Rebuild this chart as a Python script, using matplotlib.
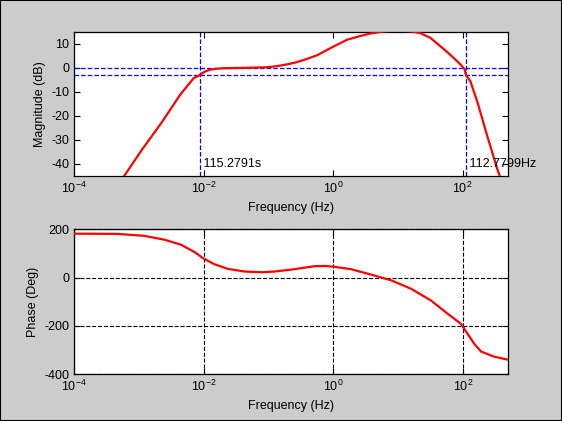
import numpy as np
import matplotlib
matplotlib.use('Agg')
import matplotlib.pyplot as plt
from matplotlib.patches import Rectangle

plt.rcParams['font.family'] = ['Liberation Sans', 'DejaVu Sans']
plt.rcParams['mathtext.fontset'] = 'custom'
plt.rcParams['mathtext.rm'] = 'Liberation Sans'
plt.rcParams['mathtext.it'] = 'Liberation Sans'
plt.rcParams['axes.unicode_minus'] = False
plt.rcParams['font.size'] = 9

# magnitude response (log10 of Hz, dB)
mag_logf = [-3.30, -3.21, -2.95, -2.67, -2.50, -2.36, -2.26, -2.206, -2.155, -2.062,
            -1.98, -1.897, -1.80, -1.69, -1.30, -1.02, -0.86, -0.71, -0.58, -0.455,
            -0.247, -0.04, 0.217, 0.43, 0.58, 0.80, 1.00, 1.20, 1.35, 1.50,
            1.66, 1.81, 1.97, 2.03, 2.052, 2.12, 2.23, 2.38, 2.54, 2.60]
mag_db = [-48.0, -44.4, -34.0, -23.6, -16.8, -11.1, -7.8, -6.0, -4.3, -3.0,
          -1.5, -0.7, -0.3, -0.1, 0.1, 0.3, 0.8, 1.5, 2.3, 3.3,
          5.3, 8.3, 11.8, 13.4, 14.4, 15.3, 15.6, 15.3, 14.5, 12.6,
          9.0, 5.5, 1.4, -0.5, -3.0, -5.5, -14.3, -28.3, -42.5, -47.0]

# phase response (log10 of Hz, degrees)
ph_logf = [-4.00, -3.33, -2.92, -2.61, -2.35, -2.14, -2.00, -1.835, -1.63, -1.37,
           -1.10, -0.907, -0.65, -0.29, -0.13, 0.00, 0.268, 0.577, 0.886, 1.196,
           1.505, 1.763, 1.969, 2.07, 2.175, 2.28, 2.48, 2.716]
ph_deg = [182, 181, 173, 157, 136, 105, 78, 55, 36, 25,
          22, 25, 33, 47, 48, 45, 35, 12.5, -11, -46,
          -95, -150, -192, -233, -275, -307, -328, -342]

f_low = 1 / 115.2791   # Hz
f_high = 112.7799      # Hz
lab_low = ' 115.2791s'
lab_high = ' 112.7799Hz'

mag_f = 10 ** np.array(mag_logf)
ph_f = 10 ** np.array(ph_logf)

fig = plt.figure(figsize=(5.62, 4.21), dpi=100, facecolor='#cccccc')
fig.patches.append(Rectangle((0, 0), 1, 1, transform=fig.transFigure,
                             fill=False, edgecolor='black', linewidth=1.5))

ax1 = fig.add_axes([0.1317, 0.582, 0.772, 0.342])
ax2 = fig.add_axes([0.1322, 0.1116, 0.7722, 0.3437])

xticks = [1e-4, 1e-2, 1e0, 1e2]

ax1.semilogx(mag_f, mag_db, color='red', linewidth=1.6, zorder=3)
ax1.axhline(0, color='blue', linestyle='--', linewidth=0.9)
ax1.axhline(-3, color='blue', linestyle='--', linewidth=0.9)
ax1.axvline(f_low, color='blue', linestyle='--', linewidth=0.9)
ax1.axvline(f_high, color='blue', linestyle='--', linewidth=0.9)
ax1.text(f_low, -40, lab_low, va='center', ha='left', fontsize=9)
ax1.text(f_high, -40, lab_high, va='center', ha='left', fontsize=9, clip_on=False)
ax1.set_xlim(1e-4, 500)
ax1.set_ylim(-45, 15)
ax1.set_yticks([-40, -30, -20, -10, 0, 10])
ax1.set_xlabel('Frequency (Hz)')
ax1.set_ylabel('Magnitude (dB)')

ax2.semilogx(ph_f, ph_deg, color='red', linewidth=1.6, zorder=3)
ax2.set_xlim(1e-4, 500)
ax2.set_ylim(-400, 200)
ax2.set_yticks([-400, -200, 0, 200])
ax2.grid(True, which='major', color='black', linestyle='--', linewidth=0.8)
ax2.set_xlabel('Frequency (Hz)')
ax2.set_ylabel('Phase (Deg)')

for ax in (ax1, ax2):
    ax.set_xticks(xticks)
    ax.minorticks_off()
    ax.tick_params(direction='in', top=True, right=True, length=4, width=0.8)
    ax.set_facecolor('white')
    for s in ax.spines.values():
        s.set_linewidth(0.9)

fig.savefig('out.png', dpi=100, facecolor=fig.get_facecolor())
